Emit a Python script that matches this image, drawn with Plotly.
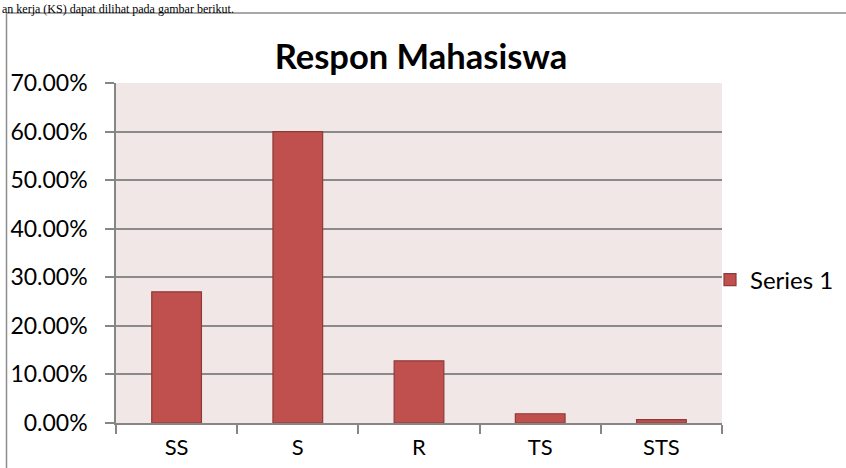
import plotly.graph_objects as go

categories = ["SS", "S", "R", "TS", "STS"]
values = [0.27, 0.60, 0.128, 0.019, 0.007]
series_name = "Series 1"
title_text = "Respon Mahasiswa"
y_ticks = [0, 0.1, 0.2, 0.3, 0.4, 0.5, 0.6, 0.7]
y_tick_labels = ["0.00%", "10.00%", "20.00%", "30.00%", "40.00%", "50.00%", "60.00%", "70.00%"]
page_text = "an kerja (KS) dapat dilihat pada gambar berikut."

W, H = 846, 468
L, R, T, B = 116, 124, 83, 45
pw, ph = W - L - R, H - T - B

def px_x(x):
    return (x - L) / pw

def px_y(y):
    return (H - B - y) / ph

FONT = "Lato, Calibri, sans-serif"

fig = go.Figure()
fig.add_trace(go.Bar(
    x=categories, y=values, name=series_name,
    marker=dict(color="#C0504D", line=dict(color="#8E3A38", width=1.2)),
    showlegend=True,
))

fig.update_layout(
    width=W, height=H,
    margin=dict(l=L, r=R, t=T, b=B, pad=0, autoexpand=False),
    paper_bgcolor="white",
    plot_bgcolor="#F2E7E7",
    bargap=0.59,
    title=dict(text="<b>" + title_text + "</b>", x=px_x(421), xref="paper", xanchor="center",
               y=1 - 57 / H, yref="container", yanchor="middle",
               font=dict(family=FONT, size=34.5, color="black")),
    legend=dict(x=px_x(710), xanchor="left", y=px_y(280), yanchor="middle",
                font=dict(family=FONT, size=24, color="black"),
                bgcolor="rgba(0,0,0,0)", itemwidth=30),
    font=dict(family=FONT, color="black"),
)

fig.update_xaxes(
    type="category",
    showline=True, linecolor="#868686", linewidth=1.5,
    ticks="outside", tickson="boundaries", ticklen=9, tickcolor="#868686", tickwidth=1.5,
    ticklabelstandoff=4,
    tickfont=dict(family=FONT, size=22, color="black"),
    showgrid=False,
)
fig.update_yaxes(
    range=[0, 0.7],
    tickvals=y_ticks, ticktext=y_tick_labels,
    showline=True, linecolor="#868686", linewidth=1.5,
    ticks="outside", ticklen=9, tickcolor="#868686", tickwidth=1.5,
    ticklabelstandoff=13,
    tickfont=dict(family=FONT, size=23, color="black"),
    showgrid=True, gridcolor="#8A8A8A", gridwidth=1.5,
    zeroline=False,
)

# document frame around the chart
fig.add_shape(type="rect", xref="paper", yref="paper",
              x0=px_x(6.5), x1=px_x(W + 10), y0=px_y(H + 10), y1=px_y(13),
              line=dict(color="#8C8C8C", width=1.5), fillcolor="rgba(0,0,0,0)", layer="below")

# document text above the chart
fig.add_annotation(text=page_text, xref="paper", yref="paper",
                   x=px_x(0), y=px_y(0), xanchor="left", yanchor="top",
                   showarrow=False,
                   font=dict(family="Liberation Serif, Times New Roman, serif", size=12, color="black"))

fig.write_html("out.html", config={"displayModeBar": False},
               post_script="document.body.style.margin='0';document.body.style.padding='0';")
